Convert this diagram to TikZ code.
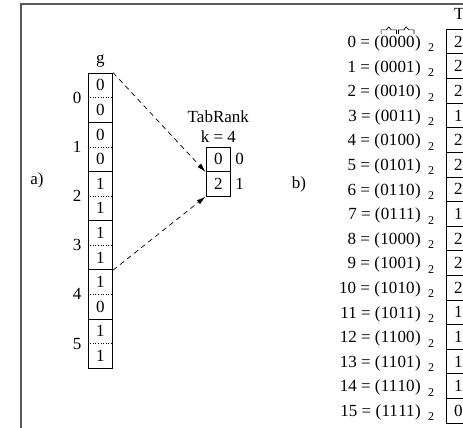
\documentclass[tikz,border=0pt]{standalone}
\usepackage{fontspec}
\setmainfont{Liberation Serif}
\usetikzlibrary{arrows.meta}
\begin{document}
\begin{tikzpicture}[x=1pt,y=-1pt,
  txt/.style={font=\fontsize{17}{20}\selectfont, inner sep=0pt},
  subtxt/.style={font=\fontsize{12}{14}\selectfont, inner sep=0pt},
  gcell/.style={draw, line width=0.8pt, minimum width=24.6pt, minimum height=49.2pt, inner sep=0pt},
  sqcell/.style={draw, line width=0.8pt, minimum width=24.6pt, minimum height=24.6pt, inner sep=0pt,
                 font=\fontsize{17}{20}\selectfont},
  halfsep/.style={dotted, line width=0.6pt},
  dasharrow/.style={dashed, dash pattern=on 5pt off 4pt, line width=0.7pt,
                    -{Latex[length=9pt,width=5pt]}},
  frameline/.style={draw=black!65, line width=1.3pt},
  bracemark/.style={line width=0.7pt},
]
\useasboundingbox (0,0) rectangle (463,428);
\clip (0,0) rectangle (463,428);

% outer frame
\draw[frameline] (21,600) -- (21,4) -- (700,4);

% ---------- part a) ----------
\node[txt] (la) at (37,180) {a)};
\node[txt] (gname) at (100.3,61) {g};

% the array g: six cells, two bits each
\foreach \i/\top/\bot in {0/0/0,1/0/0,2/1/1,3/1/1,4/1/0,5/1/1}{
  \node[gcell] (g\i) at (100.3,{97.6+49.2*\i}) {};
  \draw[halfsep] (g\i.west) -- (g\i.east);
  \node[txt] (gt\i) at (100.3,{85.3+49.2*\i}) {\top};
  \node[txt] (gb\i) at (100.3,{109.9+49.2*\i}) {\bot};
  \node[txt] (gi\i) at (77,{97.6+49.2*\i}) {\i};
}

% rank table with k = 4
\node[txt] (trname) at (218.3,117) {TabRank};
\node[txt] (trk) at (218.3,137) {k = 4};
\node[sqcell] (tr0) at (218.3,159.3) {0};
\node[sqcell] (tr1) at (218.3,183.9) {2};
\node[txt] (tri0) at (239.5,159.3) {0};
\node[txt] (tri1) at (239.5,183.9) {1};

\draw[dasharrow] (g0.north east) -- (tr0.south west);
\draw[dasharrow] (g3.south east) -- (tr1.south west);

% ---------- part b) ----------
\node[txt] (lb) at (299,184) {b)};
\node[txt, anchor=west] (tbname) at (454,14) {TabRank};

\foreach \i/\hi/\lo/\v in {0/00/00/2,1/00/01/2,2/00/10/2,3/00/11/1,
                          4/01/00/2,5/01/01/2,6/01/10/2,7/01/11/1,
                          8/10/00/2,9/10/01/2,10/10/10/2,11/10/11/1,
                          12/11/00/1,13/11/01/1,14/11/10/1,15/11/11/0}{
  \pgfmathsetmacro{\yc}{29.3+24.6*(\i+0.5)}
  \pgfmathsetmacro{\yb}{\yc+5.8}
  \node[sqcell] (tb\i) at (458.3,\yc) {\v};
  \node[subtxt, anchor=base west] (sub\i) at (428,\yb+4.5) {2};
  \node[txt, anchor=base east] (rp\i) at (421,\yb) {)};
  \node[txt, anchor=base east] (lo\i) at (rp\i.base west) {\lo};
  \node[txt, anchor=base east] (hi\i) at (lo\i.base west) {\hi};
  \node[txt, anchor=base east] (pre\i) at (hi\i.base west) {\i\ = (};
}

% small brackets over the two bit pairs of the first code
\foreach \n in {hi0,lo0}{
  \draw[bracemark] ([xshift=1pt,yshift=2pt]\n.north west) -- ([xshift=1pt,yshift=6pt]\n.north west)
    -- ([xshift=-2.5pt,yshift=6pt]\n.north) -- ([yshift=9pt]\n.north)
    -- ([xshift=2.5pt,yshift=6pt]\n.north) -- ([xshift=-1pt,yshift=6pt]\n.north east)
    -- ([xshift=-1pt,yshift=2pt]\n.north east);
}
\end{tikzpicture}
\end{document}
